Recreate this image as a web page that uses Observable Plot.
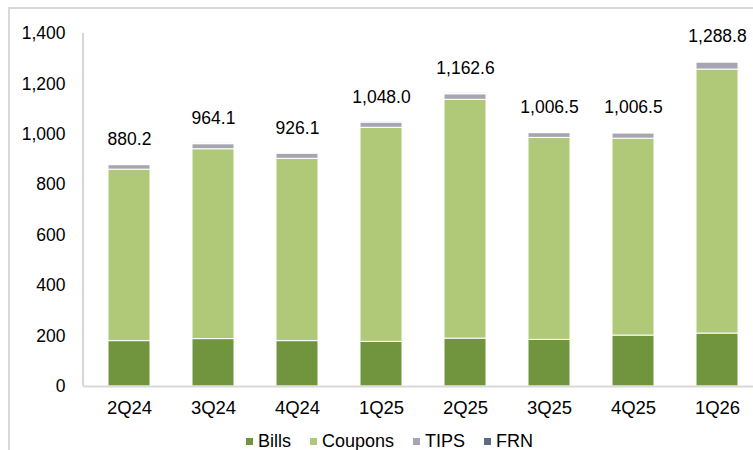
<!DOCTYPE html>
<html>
<head>
<meta charset="utf-8">
<script src="https://cdn.jsdelivr.net/npm/d3@7"></script>
<script src="https://cdn.jsdelivr.net/npm/@observablehq/plot@0.6"></script>
<style>
  html, body { margin: 0; padding: 0; background: #fff; overflow: hidden; }
  body { width: 753px; height: 450px; position: relative; font-family: "Liberation Sans", Arial, sans-serif; }
  #chart { position: absolute; left: 0; top: 0; }
  #frame { position: absolute; left: 8px; top: 7px; right: -5px; bottom: -5px; border-top: 2px solid #d9d9d9; border-left: 2px solid #d9d9d9; pointer-events: none; }
  #legend { position: absolute; left: 246px; top: 431px; display: flex; align-items: center; font-size: 18px; color: #000; white-space: nowrap; }
  #legend .item { display: flex; align-items: center; margin-right: 19px; }
  #legend .sw { width: 7px; height: 7px; margin-right: 5px; }
</style>
</head>
<body>
<div id="chart"></div>
<div id="legend"></div>
<div id="frame"></div>
<script>
const quarters = ["2Q24", "3Q24", "4Q24", "1Q25", "2Q25", "3Q25", "4Q25", "1Q26"];
const series = ["Bills", "Coupons", "TIPS", "FRN"];
const colors = ["#71953f", "#b0c978", "#a6a6b2", "#5f6b7f"];
const bills   = [180, 188, 180, 177, 190, 185, 202, 210];
const coupons = [680, 753, 723, 849, 947, 801, 781, 1047];
const tips    = [18, 20, 20, 20, 22, 19, 21, 28];
const frn     = [2.2, 3.1, 3.1, 2.0, 3.6, 1.5, 2.5, 3.8];
const yTicks  = [0, 200, 400, 600, 800, 1000, 1200, 1400];

const valuesBySeries = [bills, coupons, tips, frn];
const data = quarters.flatMap((q, i) =>
  series.map((s, j) => ({quarter: q, series: s, value: valuesBySeries[j][i]}))
);
const fmt = d3.format(",.1f");
const tickFmt = d3.format(",");

const chart = Plot.plot({
  width: 753,
  height: 428,
  marginLeft: 83,
  marginRight: 0,
  marginTop: 33,
  marginBottom: 42,
  style: {fontSize: "18px", fontFamily: "'Liberation Sans', Arial, sans-serif", color: "#000", background: "transparent", overflow: "visible"},
  x: {domain: quarters, range: [83, 762], paddingInner: 0.5, paddingOuter: 0.25, label: null, axis: null},
  y: {domain: [0, 1400], label: null, axis: null},
  color: {domain: series, range: colors},
  marks: [
    Plot.axisX({tickSize: 0, tickPadding: 14, fontSize: 18.5, label: null}),
    Plot.axisY(yTicks, {tickSize: 0, tickPadding: 18, tickFormat: tickFmt, fontSize: 17.5, label: null}),
    Plot.barY(data, {x: "quarter", y: "value", fill: "series", stroke: "white", strokeWidth: 1}),
    Plot.ruleY([0], {stroke: "#d9d9d9", strokeWidth: 2}),
    Plot.text(data, Plot.groupX(
      {y: "sum", text: vs => fmt(d3.sum(vs))},
      {x: "quarter", y: "value", text: "value", dy: -25, fontSize: 17.5, fill: "#000"}
    ))
  ]
});
document.getElementById("chart").appendChild(chart);

// y-axis line on the left edge of the plot area
const xs = chart.scale("x"), ys = chart.scale("y");
d3.select(chart).append("line")
  .attr("x1", xs.range[0]).attr("x2", xs.range[0])
  .attr("y1", ys.apply(0)).attr("y2", ys.apply(1400))
  .attr("stroke", "#c8c8c8").attr("stroke-width", 1.5);

// legend
const lg = d3.select("#legend");
series.forEach((s, i) => {
  const it = lg.append("div").attr("class", "item");
  it.append("div").attr("class", "sw").style("background", colors[i]);
  it.append("span").text(s);
});
</script>
</body>
</html>
